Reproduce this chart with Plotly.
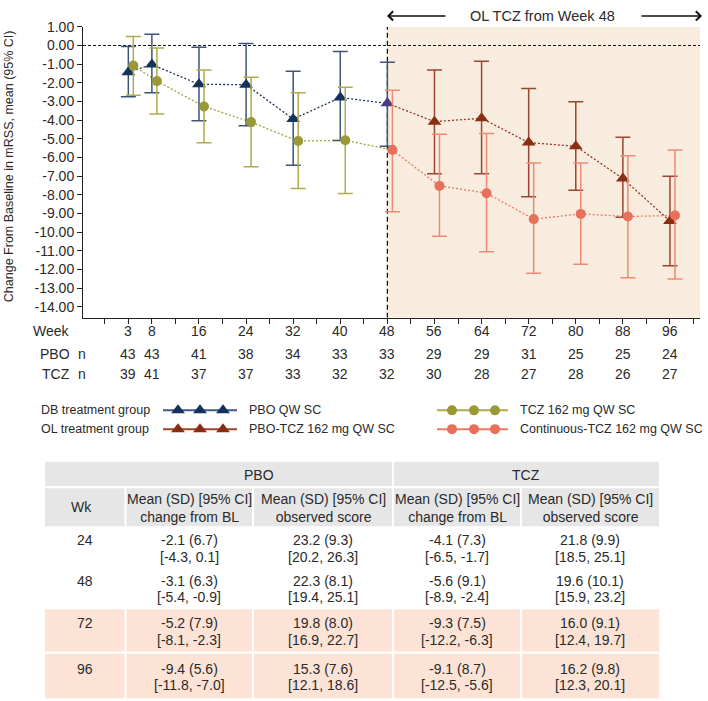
import plotly.graph_objects as go

W, H = 708, 701

# ---------------- data ----------------
week_labels = ["3", "8", "16", "24", "32", "40", "48", "56", "64", "72", "80", "88", "96"]
week_x = [4, 8, 16, 24, 32, 40, 48, 56, 64, 72, 80, 88, 96]
pbo_n = [43, 43, 41, 38, 34, 33, 33, 29, 29, 31, 25, 25, 24]
tcz_n = [39, 41, 37, 37, 33, 32, 32, 30, 28, 27, 28, 26, 27]

# PBO arm: DB PBO (weeks 3-48), then PBO-TCZ (weeks 48-96)
pbo_mean = [-1.43, -1.02, -2.08, -2.1, -3.94, -2.79, -3.1, -4.08, -3.9, -5.2, -5.4, -7.13, -9.4]
pbo_lo = [-2.75, -2.53, -4.03, -4.3, -6.41, -5.09, -5.4, -6.87, -6.87, -8.1, -7.75, -9.2, -11.8]
pbo_hi = [-0.05, 0.6, -0.1, 0.1, -1.38, -0.32, -0.9, -1.31, -0.85, -2.3, -3.02, -4.91, -7.0]
# TCZ arm: TCZ (weeks 3-40), Continuous-TCZ (weeks 48-96)
tcz_mean = [-1.08, -1.91, -3.27, -4.1, -5.12, -5.08, -5.6, -7.52, -7.91, -9.3, -9.02, -9.16, -9.1]
tcz_lo = [-2.67, -3.67, -5.21, -6.5, -7.66, -7.93, -8.9, -10.22, -11.05, -12.2, -11.72, -12.44, -12.5]
tcz_hi = [0.48, -0.14, -1.31, -1.7, -2.53, -2.24, -2.4, -4.75, -4.71, -6.3, -6.29, -5.9, -5.6]

y_ticks = list(range(1, -15, -1))

# table
tbl_weeks = ["24", "48", "72", "96"]
tbl_head_sub = ["change from BL", "observed score", "change from BL", "observed score"]
pbo_chg = ["-2.1 (6.7)", "-3.1 (6.3)", "-5.2 (7.9)", "-9.4 (5.6)"]
pbo_chg_ci = ["[-4.3, 0.1]", "[-5.4, -0.9]", "[-8.1, -2.3]", "[-11.8, -7.0]"]
pbo_obs = ["23.2 (9.3)", "22.3 (8.1)", "19.8 (8.0)", "15.3 (7.6)"]
pbo_obs_ci = ["[20.2, 26.3]", "[19.4, 25.1]", "[16.9, 22.7]", "[12.1, 18.6]"]
tcz_chg = ["-4.1 (7.3)", "-5.6 (9.1)", "-9.3 (7.5)", "-9.1 (8.7)"]
tcz_chg_ci = ["[-6.5, -1.7]", "[-8.9, -2.4]", "[-12.2, -6.3]", "[-12.5, -5.6]"]
tcz_obs = ["21.8 (9.9)", "19.6 (10.1)", "16.0 (9.1)", "16.2 (9.8)"]
tcz_obs_ci = ["[18.5, 25.1]", "[15.9, 23.2]", "[12.4, 19.7]", "[12.3, 20.1]"]
tbl_ol_rows = [False, False, True, True]

# ---------------- style ----------------
FONT = "Arial, Liberation Sans, sans-serif"
TXT = "#2a2a2a"
NAVY, NAVY_EB, NAVY_LN = "#15325d", "#3e5377", "#1e3058"
PURPLE = "#4f3a86"
OLIVE, OLIVE_EB, OLIVE_LN = "#9b9937", "#aeab4a", "#a3a03d"
BROWN, BROWN_EB, BROWN_LN = "#8a2d15", "#9a4632", "#8c3a24"
CORAL, CORAL_EB, CORAL_LN = "#e8705a", "#ee8a74", "#ea7a62"
SHADE = "#f8ecde"
GRAY = "#e6e6e6"
PEACH = "#fce3d6"
OFF = 0.85  # horizontal dodge of TCZ series
X_RANGE = [-3.7, 101.1]
Y_RANGE = [-14.58, 1.0]

fig = go.Figure()


def err(mean, lo, hi, color):
    return dict(type="data", symmetric=False,
                array=[h - m for m, h in zip(mean, hi)],
                arrayminus=[m - l for m, l in zip(mean, lo)],
                color=color, thickness=1.5, width=7.5)


def line(x, y, color):
    fig.add_trace(go.Scatter(x=x, y=y, mode="lines", hoverinfo="skip",
                             line=dict(color=color, width=1.3, dash="2px,2px"),
                             showlegend=False))


xt = [v + OFF for v in week_x]
# dotted connecting lines
line(week_x[:7], pbo_mean[:7], NAVY_LN)
line(week_x[6:], pbo_mean[6:], BROWN_LN)
line(xt[:7], tcz_mean[:7], OLIVE_LN)
line(xt[6:], tcz_mean[6:], CORAL_LN)

# markers with CI
fig.add_trace(go.Scatter(x=week_x[:7], y=pbo_mean[:7], mode="markers",
                         marker=dict(symbol="triangle-up", size=12,
                                     color=[NAVY] * 6 + [PURPLE]),
                         error_y=err(pbo_mean[:7], pbo_lo[:7], pbo_hi[:7], NAVY_EB),
                         showlegend=False))
fig.add_trace(go.Scatter(x=week_x[7:], y=pbo_mean[7:], mode="markers",
                         marker=dict(symbol="triangle-up", size=12, color=BROWN),
                         error_y=err(pbo_mean[7:], pbo_lo[7:], pbo_hi[7:], BROWN_EB),
                         showlegend=False))
fig.add_trace(go.Scatter(x=xt[:6], y=tcz_mean[:6], mode="markers",
                         marker=dict(symbol="circle", size=10, color=OLIVE),
                         error_y=err(tcz_mean[:6], tcz_lo[:6], tcz_hi[:6], OLIVE_EB),
                         showlegend=False))
fig.add_trace(go.Scatter(x=xt[6:], y=tcz_mean[6:], mode="markers",
                         marker=dict(symbol="circle", size=10, color=CORAL),
                         error_y=err(tcz_mean[6:], tcz_lo[6:], tcz_hi[6:], CORAL_EB),
                         showlegend=False))

shapes = [
    dict(type="rect", xref="x", yref="y", x0=48, x1=X_RANGE[1], y0=Y_RANGE[0], y1=Y_RANGE[1],
         fillcolor=SHADE, line=dict(width=0), layer="below"),
    dict(type="line", xref="x", yref="y", x0=X_RANGE[0], x1=X_RANGE[1], y0=0, y1=0,
         line=dict(color="#111", width=1.1, dash="3px,2px"), layer="below"),
    dict(type="line", xref="x", yref="y", x0=48, x1=48, y0=Y_RANGE[0], y1=Y_RANGE[1],
         line=dict(color="#111", width=1.3, dash="5px,3px"), layer="below"),
]
ann = []


def txt(x, y, s, size=14, xref="x2", yref="y2", xanchor="center", **kw):
    ann.append(dict(x=x, y=y, text=s, xref=xref, yref=yref, showarrow=False,
                    xanchor=xanchor, yanchor="middle",
                    font=dict(family=FONT, size=size, color=TXT), **kw))


# y title
txt(9, 160, "Change From Baseline in mRSS, mean (95% CI)", size=12.5, textangle=-90)

# OL arrows + label
for head, tail in [(387, 447), (702, 640)]:
    ann.append(dict(x=head, y=8, ax=tail, ay=8, xref="x2", yref="y2", axref="x2", ayref="y2",
                    text="", showarrow=True, arrowhead=4, arrowsize=1.2, arrowwidth=1.5,
                    arrowcolor="#111"))
txt(542, 8, "OL TCZ from Week 48", size=14.5)

# week / n rows
txt(72, 327, "Week", xanchor="right")
txt(72, 350, "PBO", xanchor="right")
txt(72, 370, "TCZ", xanchor="right")
txt(82, 350, "n")
txt(82, 370, "n")
for wx, wl, a, b in zip(week_x, week_labels, pbo_n, tcz_n):
    txt(wx, 327, wl, xref="x")
    txt(wx, 350, str(a), xref="x")
    txt(wx, 370, str(b), xref="x")

# legend
LEG_FS = 12.5
leg = [
    (407, 163, 237, [178, 200, 223], "triangle-up", NAVY, "#3e5a86", 12, 39, "DB treatment group", 247, "PBO QW SC"),
    (426, 163, 237, [178, 200, 223], "triangle-up", BROWN, "#a0442b", 12, 39, "OL treatment group", 247, "PBO-TCZ 162 mg QW SC"),
    (407, 437, 508, [452, 474, 495], "circle", OLIVE, OLIVE_EB, 10, None, None, 518, "TCZ 162 mg QW SC"),
    (426, 437, 508, [452, 474, 495], "circle", CORAL, CORAL_LN, 10, None, None, 518, "Continuous-TCZ 162 mg QW SC"),
]
for y, x0, x1, mx, sym, mc, lc, ms, gx, gtxt, tx, ttxt in leg:
    fig.add_trace(go.Scatter(x=[x0, x1], y=[y, y], xaxis="x2", yaxis="y2", mode="lines",
                             line=dict(color=lc, width=2), showlegend=False, hoverinfo="skip"))
    fig.add_trace(go.Scatter(x=mx, y=[y] * 3, xaxis="x2", yaxis="y2", mode="markers",
                             marker=dict(symbol=sym, size=ms, color=mc), showlegend=False,
                             hoverinfo="skip"))
    if gtxt:
        txt(gx, y, gtxt, size=LEG_FS, xanchor="left")
    txt(tx, y, ttxt, size=LEG_FS, xanchor="left")

# table
col_edges = [45, 125.5, 253, 393, 521, 659]
ncol = len(col_edges) - 1


def cell_x(i):
    x0 = col_edges[i] + (1 if i > 0 else 0)
    x1 = col_edges[i + 1] - (1 if i < ncol - 1 else 0)
    return x0, x1


def rect(x0, x1, y0, y1, color):
    shapes.append(dict(type="rect", xref="x2", yref="y2", x0=x0, x1=x1, y0=y0, y1=y1,
                       fillcolor=color, line=dict(width=0), layer="below"))


# header row 1
rect(col_edges[0], col_edges[3] - 1, 459, 483.5, GRAY)
rect(col_edges[3] + 1, col_edges[5], 459, 483.5, GRAY)
txt((col_edges[1] + col_edges[3]) / 2, 472, "PBO")
txt((col_edges[3] + col_edges[5]) / 2, 472, "TCZ")
# header row 2
for i in range(ncol):
    x0, x1 = cell_x(i)
    rect(x0, x1, 485.7, 524.3, GRAY)
txt(81, 505, "Wk")
for i, sub in zip(range(1, 5), tbl_head_sub):
    cx = (col_edges[i] + col_edges[i + 1]) / 2
    txt(cx, 505.5, "Mean (SD) [95% CI]<br>" + sub)

row_edges = [[526, 565], [567, 606.3], [608.3, 651], [653.3, 698.3]]
cols = [(pbo_chg, pbo_chg_ci), (pbo_obs, pbo_obs_ci), (tcz_chg, tcz_chg_ci), (tcz_obs, tcz_obs_ci)]
for r, (y0, y1) in enumerate(row_edges):
    if tbl_ol_rows[r]:
        for i in range(ncol):
            x0, x1 = cell_x(i)
            rect(x0, x1, y0, y1, PEACH)
    cy = (y0 + y1) / 2 + 1
    txt((col_edges[0] + col_edges[1]) / 2, cy - 8.5, tbl_weeks[r])
    for i, (a, b) in enumerate(cols, start=1):
        cx = (col_edges[i] + col_edges[i + 1]) / 2
        txt(cx, cy - 8.5, a[r])
        txt(cx, cy + 8.5, b[r])

fig.update_layout(
    width=W, height=H, margin=dict(l=0, r=0, t=0, b=0),
    paper_bgcolor="white", plot_bgcolor="rgba(0,0,0,0)",
    font=dict(family=FONT, color=TXT),
    shapes=shapes, annotations=ann, showlegend=False,
    xaxis=dict(domain=[83 / W, 700 / W], range=X_RANGE, tickvals=list(range(0, 101, 4)),
               showticklabels=False, ticks="outside", ticklen=5, tickcolor="#222",
               showline=True, linecolor="#222", linewidth=1, showgrid=False, zeroline=False,
               fixedrange=True),
    yaxis=dict(domain=[1 - 313.3 / H, 1 - 19 / H], range=Y_RANGE, tickvals=y_ticks,
               ticktext=[f"{v:.2f}" for v in y_ticks], ticks="outside", ticklen=5,
               tickcolor="#222", showline=True, linecolor="#222", linewidth=1,
               showgrid=False, zeroline=False, tickfont=dict(size=14, color=TXT),
               fixedrange=True),
    xaxis2=dict(domain=[0, 1], range=[0, W], visible=False, anchor="y2", fixedrange=True),
    yaxis2=dict(domain=[0, 1], range=[H, 0], visible=False, anchor="x2", fixedrange=True),
)

fig.write_html("out.html", config={"displayModeBar": False},
               post_script="document.body.style.margin='0';")
